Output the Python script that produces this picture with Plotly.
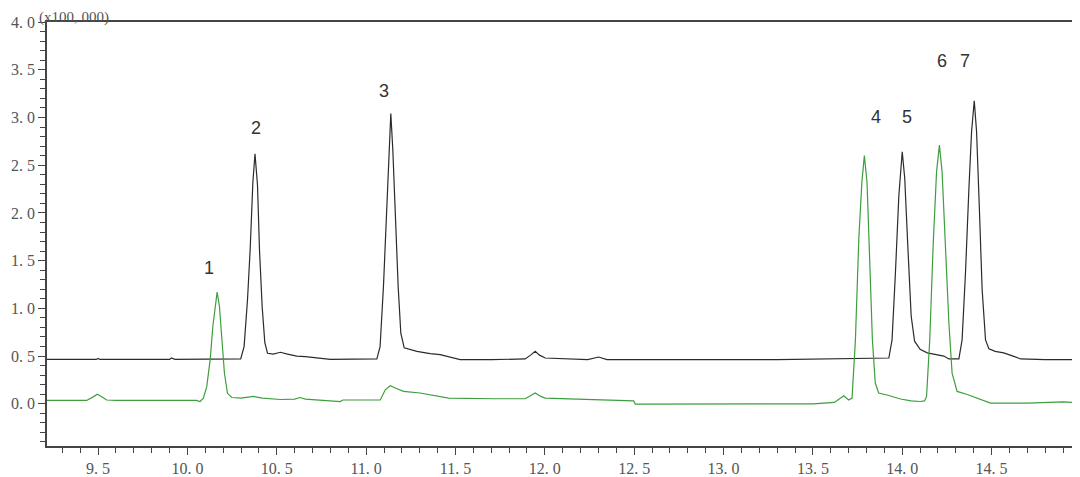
import plotly.graph_objects as go

# ---- data (retention time in min, intensity x100,000) ----
black_points = [
    (9.214, 0.465), (9.49, 0.465), (9.50, 0.475), (9.51, 0.465), (9.90, 0.465), (9.91, 0.48), (9.93, 0.465),
    (10.298, 0.47), (10.317, 0.60), (10.336, 1.09), (10.351, 1.62), (10.366, 2.32), (10.378, 2.62),
    (10.392, 2.29), (10.403, 1.62), (10.418, 1.02), (10.433, 0.64), (10.448, 0.53), (10.48, 0.52),
    (10.52, 0.54), (10.56, 0.52), (10.612, 0.50), (10.66, 0.495), (10.724, 0.48), (10.80, 0.465),
    (11.060, 0.47), (11.078, 0.60), (11.097, 1.235), (11.116, 2.15), (11.127, 2.67), (11.138, 3.04),
    (11.149, 2.67), (11.164, 1.97), (11.179, 1.235), (11.194, 0.74), (11.213, 0.586), (11.284, 0.55),
    (11.358, 0.526), (11.414, 0.516), (11.47, 0.49), (11.526, 0.463), (11.70, 0.463), (11.890, 0.47),
    (11.92, 0.51), (11.946, 0.55), (11.97, 0.51), (12.002, 0.48), (12.24, 0.463), (12.301, 0.49),
    (12.348, 0.463), (12.60, 0.463), (12.62, 0.47), (13.00, 0.463), (13.30, 0.463),
    (13.925, 0.48), (13.943, 0.67), (13.962, 1.376), (13.981, 2.18), (14.0, 2.64), (14.014, 2.36),
    (14.031, 1.66), (14.050, 0.92), (14.069, 0.656), (14.10, 0.57), (14.14, 0.534), (14.19, 0.515),
    (14.233, 0.50), (14.261, 0.47), (14.317, 0.47), (14.335, 0.67), (14.354, 1.376), (14.373, 2.25),
    (14.388, 2.85), (14.403, 3.175), (14.416, 2.85), (14.431, 2.08), (14.447, 1.20), (14.466, 0.67),
    (14.485, 0.576), (14.52, 0.55), (14.568, 0.534), (14.62, 0.50), (14.662, 0.47), (14.80, 0.463),
    (14.95, 0.463),
]

green_points = [
    (9.214, 0.035), (9.436, 0.035), (9.47, 0.07), (9.496, 0.10), (9.52, 0.075), (9.548, 0.04),
    (9.60, 0.035), (10.05, 0.035), (10.07, 0.024), (10.089, 0.06), (10.108, 0.18), (10.127, 0.46),
    (10.142, 0.81), (10.155, 1.02), (10.166, 1.17), (10.179, 1.02), (10.192, 0.67), (10.207, 0.32),
    (10.224, 0.11), (10.248, 0.066), (10.30, 0.06), (10.369, 0.077), (10.42, 0.06), (10.52, 0.045),
    (10.60, 0.05), (10.63, 0.066), (10.66, 0.05), (10.72, 0.04), (10.855, 0.024), (10.87, 0.04),
    (11.079, 0.04), (11.107, 0.147), (11.135, 0.19), (11.17, 0.16), (11.209, 0.13), (11.302, 0.113),
    (11.358, 0.095), (11.461, 0.06), (11.722, 0.053), (11.890, 0.053), (11.946, 0.113), (11.975, 0.08),
    (12.002, 0.06), (12.310, 0.04), (12.497, 0.03), (12.506, -0.003), (13.057, -0.003), (13.20, 0.0),
    (13.50, 0.0), (13.62, 0.015), (13.673, 0.084), (13.70, 0.04), (13.719, 0.06), (13.738, 0.67),
    (13.757, 1.73), (13.774, 2.32), (13.788, 2.60), (13.803, 2.32), (13.818, 1.55), (13.833, 0.67),
    (13.849, 0.22), (13.868, 0.113), (13.92, 0.09), (13.99, 0.05), (14.05, 0.03), (14.10, 0.024),
    (14.125, 0.03), (14.136, 0.077), (14.154, 0.67), (14.173, 1.66), (14.192, 2.43), (14.208, 2.71),
    (14.223, 2.43), (14.242, 1.66), (14.261, 0.85), (14.279, 0.32), (14.307, 0.13), (14.36, 0.10),
    (14.419, 0.06), (14.494, 0.007), (14.70, 0.007), (14.90, 0.02), (14.95, 0.015),
]

peak_labels = ["1", "2", "3", "4", "5", "6", "7"]
peak_label_x = [10.12, 10.384, 11.10, 13.852, 14.024, 14.22, 14.35]
peak_label_y = [1.42, 2.89, 3.28, 3.00, 3.00, 3.59, 3.59]

x_tickvals = [9.5, 10.0, 10.5, 11.0, 11.5, 12.0, 12.5, 13.0, 13.5, 14.0, 14.5]
x_ticktext = ["9. 5", "10. 0", "10. 5", "11. 0", "11. 5", "12. 0", "12. 5", "13. 0", "13. 5", "14. 0", "14. 5"]
y_tickvals = [0.0, 0.5, 1.0, 1.5, 2.0, 2.5, 3.0, 3.5, 4.0]
y_ticktext = ["0. 0", "0. 5", "1. 0", "1. 5", "2. 0", "2. 5", "3. 0", "3. 5", "4. 0"]
y_scale_label = "(x100, 000)"

# ---- figure ----
fig = go.Figure()
fig.add_trace(go.Scatter(
    x=[p[0] for p in black_points], y=[p[1] for p in black_points],
    mode="lines", line=dict(color="#2b2b2b", width=1.2), showlegend=False, hoverinfo="skip"))
fig.add_trace(go.Scatter(
    x=[p[0] for p in green_points], y=[p[1] for p in green_points],
    mode="lines", line=dict(color="#3e9e3e", width=1.2), showlegend=False, hoverinfo="skip"))

for t, lx, ly in zip(peak_labels, peak_label_x, peak_label_y):
    fig.add_annotation(x=lx, y=ly, text=t, showarrow=False, xref="x", yref="y",
                       font=dict(family="Liberation Sans, Arial, sans-serif", size=18, color="#333333"))

fig.add_annotation(x=0, y=1, xref="paper", yref="paper", xanchor="left", yanchor="middle",
                   xshift=-9, yshift=5, text=y_scale_label, showarrow=False, borderpad=0,
                   font=dict(family="Liberation Serif, serif", size=15, color="#555555"))

tick_font = dict(family="Liberation Serif, serif", size=16, color="#555555")
fig.update_xaxes(
    range=[9.214, 14.95], tickvals=x_tickvals, ticktext=x_ticktext,
    ticks="outside", ticklen=7, tickwidth=1.2, tickcolor="#444444",
    minor=dict(ticks="outside", dtick=0.1, tick0=0, ticklen=5, tickcolor="#444444", tickwidth=1.2, showgrid=False),
    showline=True, linecolor="#444444", linewidth=1.5, mirror=True, automargin=False,
    showgrid=False, zeroline=False, tickfont=tick_font)
fig.update_yaxes(
    range=[-0.442, 4.0], tickvals=y_tickvals, ticktext=y_ticktext,
    ticks="outside", ticklen=7, tickwidth=1.2, tickcolor="#444444",
    minor=dict(ticks="outside", dtick=0.1, tick0=0, ticklen=5, tickcolor="#444444", tickwidth=1.2, showgrid=False),
    showline=True, linecolor="#444444", linewidth=1.5, mirror=True, automargin=False,
    showgrid=False, zeroline=False, tickfont=tick_font)

# the page body adds an 8 px offset, so the figure is sized/margined to compensate
fig.update_layout(
    width=1072, height=469,
    margin=dict(l=39, r=8, t=14, b=31),
    paper_bgcolor="white", plot_bgcolor="white",
)

fig.write_html("out.html")
